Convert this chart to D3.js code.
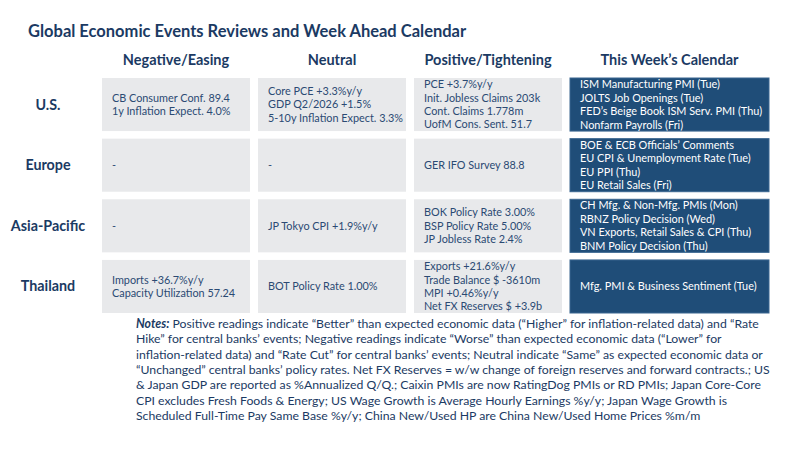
<!DOCTYPE html>
<html><head><meta charset="utf-8">
<script src="https://cdn.jsdelivr.net/npm/d3@7"></script>
<style>body{margin:0;background:#fff}svg{display:block}</style>
</head><body><svg id="c" width="800" height="450"></svg>
<script>
const title = "Global Economic Events Reviews and Week Ahead Calendar";
const columns = ["Negative/Easing", "Neutral", "Positive/Tightening", "This Week\u2019s Calendar"];
const regions = ["U.S.", "Europe", "Asia-Pacific", "Thailand"];
const negative = [
  ["CB Consumer Conf. 89.4", "1y Inflation Expect. 4.0%"],
  ["-"],
  ["-"],
  ["Imports +36.7%y/y", "Capacity Utilization 57.24"]
];
const neutral = [
  ["Core PCE +3.3%y/y", "GDP Q2/2026 +1.5%", "5-10y Inflation Expect. 3.3%"],
  ["-"],
  ["JP Tokyo CPI +1.9%y/y"],
  ["BOT Policy Rate 1.00%"]
];
const positive = [
  ["PCE +3.7%y/y", "Init. Jobless Claims 203k", "Cont. Claims 1.778m", "UofM Cons. Sent. 51.7"],
  ["GER IFO Survey 88.8"],
  ["BOK Policy Rate 3.00%", "BSP Policy Rate 5.00%", "JP Jobless Rate 2.4%"],
  ["Exports +21.6%y/y", "Trade Balance $ -3610m", "MPI +0.46%y/y", "Net FX Reserves $ +3.9b"]
];
const calendar = [
  ["ISM Manufacturing PMI (Tue)", "JOLTS Job Openings (Tue)", "FED\u2019s Beige Book ISM Serv. PMI (Thu)", "Nonfarm Payrolls (Fri)"],
  ["BOE & ECB Officials\u2019 Comments", "EU CPI & Unemployment Rate (Tue)", "EU PPI (Thu)", "EU Retail Sales (Fri)"],
  ["CH Mfg. & Non-Mfg. PMIs (Mon)", "RBNZ Policy Decision (Wed)", "VN Exports, Retail Sales & CPI (Thu)", "BNM Policy Decision (Thu)"],
  ["Mfg. PMI & Business Sentiment (Tue)"]
];
const notesLabel = "Notes:";
const notesLines = [
  " Positive readings indicate \u201cBetter\u201d than expected economic data (\u201cHigher\u201d for inflation-related data) and \u201cRate",
  "Hike\u201d for central banks\u2019 events; Negative readings indicate \u201cWorse\u201d than expected economic data (\u201cLower\u201d for",
  "inflation-related data) and \u201cRate Cut\u201d for central banks\u2019 events; Neutral indicate \u201cSame\u201d as expected economic data or",
  "\u201cUnchanged\u201d central banks\u2019 policy rates. Net FX Reserves = w/w change of foreign reserves and forward contracts.; US",
  "& Japan GDP are reported as %Annualized Q/Q.; Caixin PMIs are now RatingDog PMIs or RD PMIs; Japan Core-Core",
  "CPI excludes Fresh Foods & Energy; US Wage Growth is Average Hourly Earnings %y/y; Japan Wage Growth is",
  "Scheduled Full-Time Pay Same Base %y/y; China New/Used HP are China New/Used Home Prices %m/m"
];

const colData = [negative, neutral, positive, calendar];
const FONT = "Lato, 'Open Sans', sans-serif";
const NAVY = "#1b3a63";
const svg = d3.select("#c").style("font-family", FONT);

// column scale: band positions with custom widths (calendar wider)
const colWeights = [148, 148, 148, 199];
const gap = 8;
const x0 = 102;
const xStart = d3.scaleOrdinal().domain(columns)
  .range(colWeights.map((w, i) => x0 + d3.sum(colWeights.slice(0, i)) + gap * i));
const xWidth = d3.scaleOrdinal().domain(columns).range(colWeights);
const y = d3.scaleBand().domain(regions).range([78, 313]).paddingInner(0.125);

svg.append("text").attr("x", 28).attr("y", 37)
  .attr("fill", NAVY).attr("font-weight", 700).attr("font-size", 16.5)
  .text(title);

svg.selectAll("text.colhead").data(columns).join("text").attr("class", "colhead")
  .attr("x", d => xStart(d) + xWidth(d) / 2).attr("y", 64.5)
  .attr("text-anchor", "middle").attr("fill", NAVY)
  .attr("font-weight", 700).attr("font-size", 14.5).text(d => d);

svg.selectAll("text.rowhead").data(regions).join("text").attr("class", "rowhead")
  .attr("x", 48).attr("y", d => y(d) + y.bandwidth() / 2)
  .attr("dy", "0.35em").attr("text-anchor", "middle").attr("fill", NAVY)
  .attr("font-weight", 700).attr("font-size", 14.3).text(d => d);

const cells = [];
columns.forEach((c, ci) => regions.forEach((r, ri) => cells.push({c, r, ci, lines: colData[ci][ri]})));

const g = svg.selectAll("g.cell").data(cells).join("g").attr("class", "cell")
  .attr("transform", d => `translate(${xStart(d.c)},${y(d.r)})`);
g.append("rect")
  .attr("width", d => xWidth(d.c)).attr("height", y.bandwidth())
  .attr("fill", d => d.ci === 3 ? "#1f4d78" : "#e8e9eb")
  .attr("stroke", d => d.ci === 3 ? "#3a6690" : "none").attr("stroke-width", 1);
g.each(function(d) {
  const cal = d.ci === 3;
  const lh = cal ? 13.5 : 13.4;
  const n = d.lines.length;
  const t = d3.select(this).append("text")
    .attr("fill", cal ? "#ffffff" : "#2b4a73")
    .attr("font-size", cal ? 10.9 : 10.85);
  t.selectAll("tspan").data(d.lines).join("tspan")
    .attr("x", 10)
    .attr("y", (l, i) => y.bandwidth() / 2 + (i - (n - 1) / 2) * lh)
    .attr("dy", "0.35em").text(l => l);
});

const nt = svg.append("g").attr("fill", NAVY).attr("font-size", 12.25);
notesLines.forEach((l, i) => {
  const t = nt.append("text").attr("x", 136).attr("y", 328 + i * 15.3);
  if (i === 0) t.append("tspan").attr("font-weight", 700).attr("font-style", "italic").text(notesLabel);
  t.append("tspan").text(l);
});
</script></body></html>
